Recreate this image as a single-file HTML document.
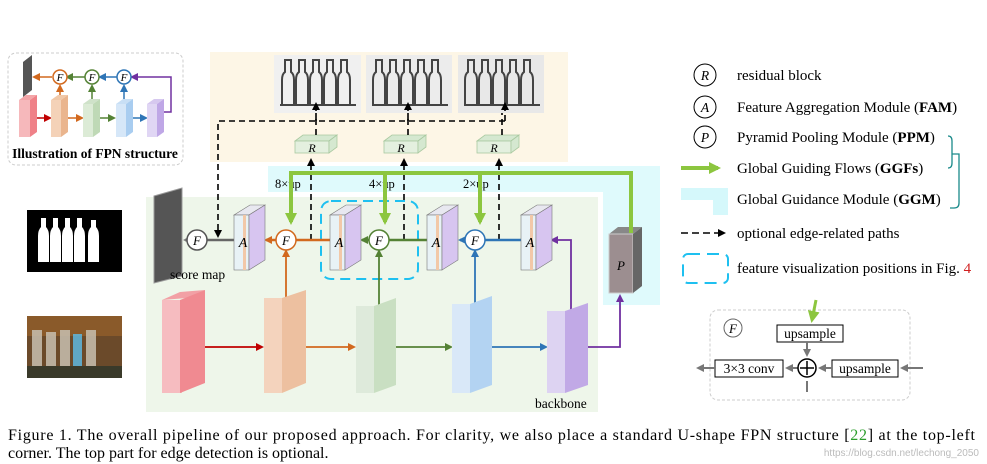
<!DOCTYPE html>
<html><head><meta charset="utf-8"><style>
html,body{margin:0;padding:0;background:#fff;}
svg{display:block;font-family:"Liberation Serif",serif;}
</style></head><body>
<svg width="987" height="464" viewBox="0 0 987 464" xmlns="http://www.w3.org/2000/svg">
<defs>
<marker id="ak" markerWidth="8" markerHeight="8" refX="6" refY="4" orient="auto" markerUnits="userSpaceOnUse"><path d="M0,0 L8,4 L0,8 z" fill="#000"/></marker>
<marker id="ag" markerWidth="12" markerHeight="12" refX="9" refY="6" orient="auto" markerUnits="userSpaceOnUse"><path d="M0,0 L12,6 L0,12 z" fill="#8cc63f"/></marker>
<marker id="ar" markerWidth="8" markerHeight="8" refX="6" refY="4" orient="auto" markerUnits="userSpaceOnUse"><path d="M0,0 L8,4 L0,8 z" fill="#c00000"/></marker>
<marker id="ao" markerWidth="8" markerHeight="8" refX="6" refY="4" orient="auto" markerUnits="userSpaceOnUse"><path d="M0,0 L8,4 L0,8 z" fill="#d2691e"/></marker>
<marker id="agr" markerWidth="8" markerHeight="8" refX="6" refY="4" orient="auto" markerUnits="userSpaceOnUse"><path d="M0,0 L8,4 L0,8 z" fill="#548235"/></marker>
<marker id="ab" markerWidth="8" markerHeight="8" refX="6" refY="4" orient="auto" markerUnits="userSpaceOnUse"><path d="M0,0 L8,4 L0,8 z" fill="#2e75b6"/></marker>
<marker id="ap" markerWidth="8" markerHeight="8" refX="6" refY="4" orient="auto" markerUnits="userSpaceOnUse"><path d="M0,0 L8,4 L0,8 z" fill="#7030a0"/></marker>
<marker id="agy" markerWidth="8" markerHeight="8" refX="6" refY="4" orient="auto" markerUnits="userSpaceOnUse"><path d="M0,0 L8,4 L0,8 z" fill="#777"/></marker>
</defs>

<rect x="210" y="52" width="358" height="110" fill="#fdf6e6"/>
<path d="M268,166 H660 V305 H603 V192 H268 Z" fill="#dffafc"/>
<rect x="146" y="197" width="452" height="215" fill="#eef6ea"/>

<!-- FPN inset -->
<rect x="8" y="53" width="175" height="112" rx="8" fill="#fff" stroke="#ccc" stroke-dasharray="3,2"/>
<polygon points="23,62 32,55 32,90 23,97" fill="#555"/>
<g stroke-width="1.5" fill="none">
<line x1="52" y1="77" x2="34" y2="77" stroke="#d2691e" marker-end="url(#ao)"/>
<line x1="85" y1="77" x2="67" y2="77" stroke="#548235" marker-end="url(#agr)"/>
<line x1="117" y1="77" x2="100" y2="77" stroke="#2e75b6" marker-end="url(#ab)"/>
<path d="M162,112 H171 V77 H132" stroke="#7030a0" marker-end="url(#ap)"/>
<line x1="60" y1="100" x2="60" y2="86" stroke="#d2691e" marker-end="url(#ao)"/>
<line x1="92" y1="100" x2="92" y2="86" stroke="#548235" marker-end="url(#agr)"/>
<line x1="124" y1="100" x2="124" y2="86" stroke="#2e75b6" marker-end="url(#ab)"/>
<line x1="36" y1="118" x2="50" y2="118" stroke="#c00000" marker-end="url(#ar)"/>
<line x1="68" y1="118" x2="82" y2="118" stroke="#d2691e" marker-end="url(#ao)"/>
<line x1="100" y1="118" x2="114" y2="118" stroke="#548235" marker-end="url(#agr)"/>
<line x1="133" y1="118" x2="146" y2="118" stroke="#2e75b6" marker-end="url(#ab)"/>
</g>
<g font-size="11" font-style="italic" text-anchor="middle">
<circle cx="60" cy="77" r="7" fill="#fff" stroke="#d2691e" stroke-width="1.5"/><text x="60" y="81">F</text>
<circle cx="92" cy="77" r="7" fill="#fff" stroke="#548235" stroke-width="1.5"/><text x="92" y="81">F</text>
<circle cx="124" cy="77" r="7" fill="#fff" stroke="#2e75b6" stroke-width="1.5"/><text x="124" y="81">F</text>
</g>
<polygon points="19,100 26,95 37,95 30,100" fill="#f4a5a8"/><rect x="19" y="100" width="11" height="37" fill="#f6b8bb"/><polygon points="30,100 37,95 37,132 30,137" fill="#ef8188"/>
<polygon points="51,100 58,95 68,95 61,100" fill="#f0c8a8"/><rect x="51" y="100" width="10" height="37" fill="#f4d2b8"/><polygon points="61,100 68,95 68,132 61,137" fill="#eab58e"/>
<polygon points="83,104 90,99 100,99 93,104" fill="#cfe2c9"/><rect x="83" y="104" width="10" height="33" fill="#dcebd6"/><polygon points="93,104 100,99 100,132 93,137" fill="#bfd9b6"/>
<polygon points="116,104 123,99 133,99 126,104" fill="#c8dff5"/><rect x="116" y="104" width="10" height="33" fill="#d6e7f8"/><polygon points="126,104 133,99 133,132 126,137" fill="#a9cdf0"/>
<polygon points="147,104 154,99 164,99 157,104" fill="#d6c8ef"/><rect x="147" y="104" width="10" height="33" fill="#e0d6f4"/><polygon points="157,104 164,99 164,132 157,137" fill="#bfa7e6"/>
<text x="95" y="158" font-size="13.5" font-weight="bold" text-anchor="middle">Illustration of FPN structure</text>

<!-- left images -->
<rect x="27" y="210" width="95" height="62" fill="#000"/>
<g fill="#fff">
<path d="M38,262 V236 q0,-6 3,-9 V218 h5 v9 q3,3 3,9 V262 Z"/>
<path d="M50,262 V236 q0,-6 3,-9 V218 h5 v9 q3,3 3,9 V262 Z"/>
<path d="M62,262 V236 q0,-6 3,-9 V218 h5 v9 q3,3 3,9 V262 Z"/>
<path d="M74,262 V236 q0,-6 3,-9 V218 h5 v9 q3,3 3,9 V262 Z"/>
<path d="M88,262 V236 q0,-6 3,-9 V220 h5 v7 q3,3 3,9 V262 Z"/>
</g>
<rect x="27" y="316" width="95" height="62" fill="#6b4a2a"/>
<rect x="27" y="316" width="95" height="20" fill="#8a5a2a"/>
<g fill="#c8c0b0" opacity="0.85">
<rect x="32" y="330" width="10" height="40"/><rect x="46" y="332" width="10" height="38"/><rect x="60" y="330" width="10" height="40"/><rect x="73" y="334" width="9" height="36" fill="#5fb8e0"/><rect x="86" y="330" width="10" height="40"/>
</g>
<rect x="27" y="366" width="95" height="12" fill="#3a3a2a"/>

<!-- edge images -->
<rect x="274" y="55" width="87" height="58" fill="#f0f0f0"/>
<rect x="366" y="55" width="86" height="58" fill="#ececec"/>
<rect x="458" y="55" width="86" height="58" fill="#e8e8e8"/>
<g fill="none" stroke="#444" stroke-width="2">
<path d="M280,105 H356 M282,105 V80 q0,-6 3,-8 V60 h6 v12 q3,2 3,8 V105 M296,105 V80 q0,-6 3,-8 V60 h6 v12 q3,2 3,8 V105 M310,105 V80 q0,-6 3,-8 V60 h6 v12 q3,2 3,8 V105 M324,105 V80 q0,-6 3,-8 V60 h6 v12 q3,2 3,8 V105 M338,105 V80 q0,-6 3,-8 V60 h6 v12 q3,2 3,8 V105"/>
<path d="M372,105 H448 M373,105 V80 q0,-6 3,-8 V60 h6 v12 q3,2 3,8 V105 M387,105 V80 q0,-6 3,-8 V60 h6 v12 q3,2 3,8 V105 M401,105 V80 q0,-6 3,-8 V60 h6 v12 q3,2 3,8 V105 M415,105 V80 q0,-6 3,-8 V60 h6 v12 q3,2 3,8 V105 M429,105 V80 q0,-6 3,-8 V60 h6 v12 q3,2 3,8 V105"/>
<path d="M464,105 H540 M465,105 V80 q0,-6 3,-8 V60 h6 v12 q3,2 3,8 V105 M479,105 V80 q0,-6 3,-8 V60 h6 v12 q3,2 3,8 V105 M493,105 V80 q0,-6 3,-8 V60 h6 v12 q3,2 3,8 V105 M507,105 V80 q0,-6 3,-8 V60 h6 v12 q3,2 3,8 V105 M521,105 V80 q0,-6 3,-8 V60 h6 v12 q3,2 3,8 V105"/>
</g>

<!-- R blocks -->
<g font-size="12" font-style="italic" text-anchor="middle">
<g fill="#d5e8d0" stroke="#a9c9a0" stroke-width="0.8">
<polygon points="295,141 303,135 337,135 329,141"/><rect x="295" y="141" width="34" height="12" fill="#e4f0df"/><polygon points="329,141 337,135 337,147 329,153"/>
<polygon points="384,141 392,135 426,135 418,141"/><rect x="384" y="141" width="34" height="12" fill="#e4f0df"/><polygon points="418,141 426,135 426,147 418,153"/>
<polygon points="477,141 485,135 519,135 511,141"/><rect x="477" y="141" width="34" height="12" fill="#e4f0df"/><polygon points="511,141 519,135 519,147 511,153"/>
</g>
<text x="312" y="152">R</text><text x="401" y="152">R</text><text x="494" y="152">R</text>
</g>

<g stroke="#000" stroke-width="1.6" fill="none" stroke-dasharray="6,4">
<path d="M505,121 H218 V236" marker-end="url(#ak)"/>
<line x1="316" y1="121" x2="316" y2="104" marker-end="url(#ak)"/>
<line x1="408" y1="121" x2="408" y2="104" marker-end="url(#ak)"/>
<line x1="505" y1="121" x2="505" y2="104" marker-end="url(#ak)"/>
<line x1="316" y1="135" x2="316" y2="113"/>
<line x1="408" y1="135" x2="408" y2="113"/>
<line x1="502" y1="135" x2="502" y2="113"/>
<line x1="311" y1="240" x2="311" y2="160" marker-end="url(#ak)"/>
<line x1="404" y1="240" x2="404" y2="160" marker-end="url(#ak)"/>
<line x1="499" y1="240" x2="499" y2="160" marker-end="url(#ak)"/>
</g>
<g font-size="12.5"><text x="275" y="188">8×up</text><text x="369" y="188">4×up</text><text x="463" y="188">2×up</text></g>

<rect x="321" y="201" width="97" height="78" rx="10" fill="none" stroke="#1ec0f0" stroke-width="2" stroke-dasharray="10,6"/>

<polygon points="154,196 182,188 182,276 154,283" fill="#555" stroke="#999"/>
<text x="170" y="279" font-size="13.5">score map</text>

<g stroke-width="2.5" fill="none">
<line x1="234" y1="240" x2="185" y2="240" stroke="#666" marker-end="url(#agy)"/>
<line x1="330" y1="240" x2="266" y2="240" stroke="#d2691e" marker-end="url(#ao)"/>
<line x1="427" y1="240" x2="362" y2="240" stroke="#548235" marker-end="url(#agr)"/>
<line x1="521" y1="240" x2="460" y2="240" stroke="#2e75b6" marker-end="url(#ab)"/>
<path d="M571,310 V240 H552" stroke="#7030a0" stroke-width="1.8" marker-end="url(#ap)"/>
<line x1="286" y1="310" x2="286" y2="251" stroke="#d2691e" stroke-width="1.8" marker-end="url(#ao)"/>
<line x1="379" y1="318" x2="379" y2="251" stroke="#548235" stroke-width="1.8" marker-end="url(#agr)"/>
<line x1="475" y1="315" x2="475" y2="251" stroke="#2e75b6" stroke-width="1.8" marker-end="url(#ab)"/>
<line x1="205" y1="347" x2="262" y2="347" stroke="#c00000" stroke-width="1.8" marker-end="url(#ar)"/>
<line x1="296" y1="347" x2="354" y2="347" stroke="#d2691e" stroke-width="1.8" marker-end="url(#ao)"/>
<line x1="387" y1="347" x2="451" y2="347" stroke="#548235" stroke-width="1.8" marker-end="url(#agr)"/>
<line x1="483" y1="347" x2="546" y2="347" stroke="#2e75b6" stroke-width="1.8" marker-end="url(#ab)"/>
<path d="M577,347 H620 V296" stroke="#7030a0" stroke-width="1.8" marker-end="url(#ap)"/>
</g>

<polygon points="162,300 180,292 205,290 187,298" fill="#f2a0a5"/>
<rect x="162" y="300" width="20" height="93" fill="#f6bcc0"/><polygon points="180,300 205,290 205,383 180,393" fill="#f08a91"/>
<rect x="264" y="298" width="18" height="95" fill="#f4d3bd"/><polygon points="282,298 306,290 306,383 282,393" fill="#edc0a0"/>
<rect x="356" y="306" width="18" height="87" fill="#deeadb"/><polygon points="374,306 396,298 396,385 374,393" fill="#c9dfc2"/>
<rect x="452" y="304" width="18" height="89" fill="#d9e8f8"/><polygon points="470,304 492,296 492,385 470,393" fill="#b3d3f2"/>
<rect x="547" y="311" width="18" height="82" fill="#ddd3f2"/><polygon points="565,311 588,303 588,385 565,393" fill="#c1a9e6"/>
<text x="535" y="408" font-size="13.5">backbone</text>

<g id="ablk">
<polygon points="234,215 250,205 265,205 249,215" fill="#e8e8f0" stroke="#777" stroke-width="0.6"/>
<rect x="234" y="215" width="15" height="55" fill="#e8f2f6" stroke="#777" stroke-width="0.6"/>
<rect x="243" y="215" width="3" height="55" fill="#f2c8a8"/>
<polygon points="249,215 265,205 265,260 249,270" fill="#d7c5f0" stroke="#777" stroke-width="0.6"/>
</g>
<use href="#ablk" x="96"/><use href="#ablk" x="193"/><use href="#ablk" x="287"/>
<g font-size="14" font-style="italic" text-anchor="middle">
<text x="243" y="247">A</text><text x="339" y="247">A</text><text x="436" y="247">A</text><text x="530" y="247">A</text>
</g>

<polygon points="609,234 618,227 642,227 633,234" fill="#888"/>
<rect x="609" y="234" width="24" height="59" fill="#9c8e90" stroke="#ccc"/>
<polygon points="633,234 642,227 642,286 633,293" fill="#666"/>
<text x="621" y="270" font-size="13" font-style="italic" text-anchor="middle">P</text>

<g stroke="#8cc63f" stroke-width="4" fill="none">
<path d="M631,233 V173 H291 V222" marker-end="url(#ag)"/>
<line x1="385" y1="173" x2="385" y2="222" marker-end="url(#ag)"/>
<line x1="480" y1="173" x2="480" y2="222" marker-end="url(#ag)"/>
</g>

<g font-size="13" font-style="italic" text-anchor="middle">
<circle cx="197" cy="240" r="10" fill="#fff" stroke="#555" stroke-width="1.5"/><text x="197" y="245">F</text>
<circle cx="286" cy="240" r="10" fill="#fff" stroke="#d2691e" stroke-width="1.5"/><text x="286" y="245">F</text>
<circle cx="379" cy="240" r="10" fill="#fff" stroke="#548235" stroke-width="1.5"/><text x="379" y="245">F</text>
<circle cx="475" cy="240" r="10" fill="#fff" stroke="#2e75b6" stroke-width="1.5"/><text x="475" y="245">F</text>
</g>

<!-- legend -->
<g font-size="15">
<circle cx="705" cy="75" r="11" fill="#fff" stroke="#000"/><text x="705" y="80" text-anchor="middle" font-style="italic" font-size="13.5">R</text>
<text x="737" y="80">residual block</text>
<circle cx="705" cy="107" r="11" fill="#fff" stroke="#000"/><text x="705" y="112" text-anchor="middle" font-style="italic" font-size="13.5">A</text>
<text x="737" y="112">Feature Aggregation Module (<tspan font-weight="bold">FAM</tspan>)</text>
<circle cx="705" cy="137" r="11" fill="#fff" stroke="#000"/><text x="705" y="142" text-anchor="middle" font-style="italic" font-size="13.5">P</text>
<text x="737" y="142">Pyramid Pooling Module (<tspan font-weight="bold">PPM</tspan>)</text>
<line x1="681" y1="168" x2="718" y2="168" stroke="#8cc63f" stroke-width="4" marker-end="url(#ag)"/>
<text x="737" y="173">Global Guiding Flows (<tspan font-weight="bold">GGFs</tspan>)</text>
<path d="M681,188 H728 V215 H713 V200 H681 Z" fill="#d5f8fb"/>
<text x="737" y="204">Global Guidance Module (<tspan font-weight="bold">GGM</tspan>)</text>
<line x1="681" y1="233" x2="724" y2="233" stroke="#000" stroke-width="1.6" stroke-dasharray="7,4" marker-end="url(#ak)"/>
<text x="737" y="238">optional edge-related paths</text>
<rect x="683" y="254" width="45" height="29" rx="5" fill="none" stroke="#1ec0f0" stroke-width="2" stroke-dasharray="12,7"/>
<text x="737" y="273">feature visualization positions in Fig. <tspan fill="#d02020">4</tspan></text>
</g>
<path d="M948,136 q4,0 4,5 V163 q0,5 -4,5 M952,154 H959 V203 q0,5 -5,5 H950" fill="none" stroke="#1a8a8a" stroke-width="1.3"/>

<!-- F detail box -->
<rect x="710" y="310" width="200" height="90" rx="8" fill="#fff" stroke="#ccc" stroke-dasharray="3,2"/>
<line x1="816" y1="300" x2="812" y2="320" stroke="#8cc63f" stroke-width="3" marker-end="url(#ag)"/>
<circle cx="733" cy="328" r="9" fill="#fff" stroke="#666"/><text x="733" y="333" font-size="13" font-style="italic" text-anchor="middle">F</text>
<g font-size="13.5">
<rect x="777" y="325" width="66" height="17" fill="#fff" stroke="#000"/><text x="810" y="338" text-anchor="middle">upsample</text>
<rect x="715" y="360" width="68" height="17" fill="#fff" stroke="#000"/><text x="749" y="373" text-anchor="middle">3×3 conv</text>
<rect x="832" y="360" width="66" height="17" fill="#fff" stroke="#000"/><text x="865" y="373" text-anchor="middle">upsample</text>
</g>
<g stroke="#777" stroke-width="2" fill="none">
<line x1="807" y1="342" x2="807" y2="355" marker-end="url(#agy)"/>
<line x1="923" y1="368" x2="902" y2="368" marker-end="url(#agy)"/>
<line x1="832" y1="368" x2="820" y2="368" marker-end="url(#agy)"/>
<line x1="798" y1="368" x2="787" y2="368" marker-end="url(#agy)"/>
<line x1="715" y1="368" x2="698" y2="368" marker-end="url(#agy)"/>
<line x1="807" y1="392" x2="807" y2="381"/>
</g>
<circle cx="807" cy="368" r="9" fill="#fff" stroke="#000" stroke-width="1.5"/>
<path d="M800,368 H814 M807,361 V375" stroke="#000" stroke-width="1.5"/>

<g font-size="16">
<text x="8" y="440" textLength="967" lengthAdjust="spacing">Figure 1. The overall pipeline of our proposed approach. For clarity, we also place a standard U-shape FPN structure [<tspan fill="#2a9d2a">22</tspan>] at the top-left</text>
<text x="8" y="458">corner. The top part for edge detection is optional.</text>
</g>
<text x="979" y="456" font-size="10" fill="#bbb" text-anchor="end" font-family="Liberation Sans,sans-serif">https://blog.csdn.net/lechong_2050</text>
</svg>
</body></html>
